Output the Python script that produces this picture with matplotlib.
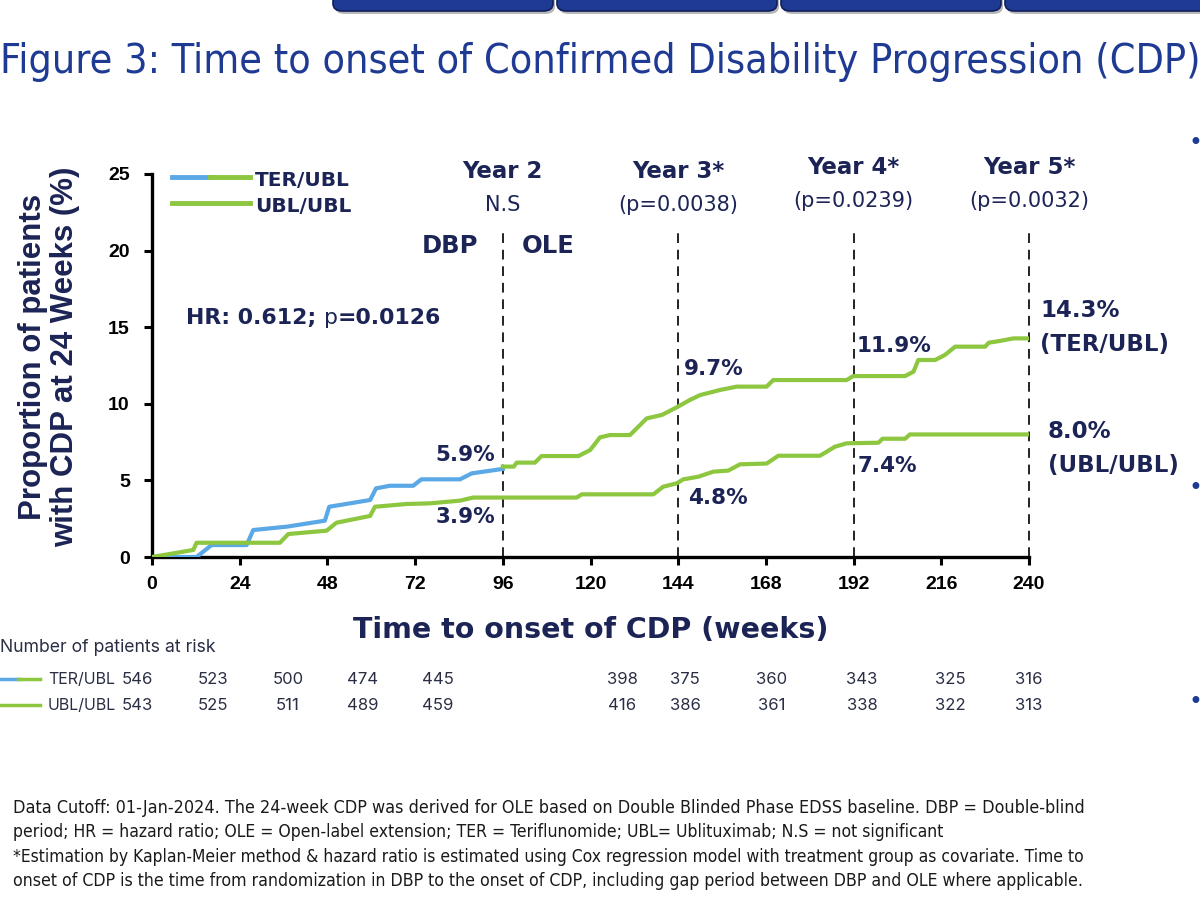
import matplotlib
matplotlib.use('Agg')
import matplotlib.pyplot as plt
from matplotlib import font_manager
from matplotlib.lines import Line2D
from matplotlib.patches import FancyBboxPatch

# ---- data ----
ter_dbp_weeks = [0, 12.2, 16.3, 25.9, 27.7, 36.9, 47.3, 48.5, 59.7, 61.3, 65.1,
                 71.5, 73.7, 84.3, 87.5, 96]
ter_dbp_pct = [0, 0, 0.78, 0.78, 1.76, 1.98, 2.37, 3.28, 3.72, 4.48, 4.65,
               4.65, 5.07, 5.07, 5.46, 5.75]

ter_ole_weeks = [96, 99, 99.8, 104.8, 106.6, 116.7, 119.9, 122.6, 125.3, 130.8,
                 135.4, 139.5, 143.6, 147.2, 150, 155.4, 160, 168.2, 170, 190.1,
                 191.9, 206.1, 208.4, 209.7, 214.3, 217, 219.8, 228, 229, 232,
                 235.7, 240]
ter_ole_pct = [5.9, 5.9, 6.16, 6.16, 6.59, 6.59, 6.98, 7.81, 7.96, 7.96,
               9.05, 9.27, 9.77, 10.25, 10.57, 10.9, 11.12, 11.12, 11.55, 11.55,
               11.81, 11.81, 12.1, 12.86, 12.86, 13.19, 13.73, 13.73, 13.99, 14.1,
               14.27, 14.27]

ubl_weeks = [0, 11.3, 12.2, 35, 37.3, 47.8, 50.5, 59.7, 61, 69.7, 76, 84.3,
             87.9, 116.2, 117.6, 137.2, 139.9, 143.6, 145.4, 149.5, 153.6, 157.7,
             160.9, 168.2, 171.4, 182.8, 186.9, 190.1, 198.8, 199.9, 206.1, 207.4,
             240]
ubl_pct = [0, 0.46, 0.93, 0.93, 1.5, 1.72, 2.24, 2.68, 3.28, 3.46, 3.5, 3.68,
           3.88, 3.88, 4.09, 4.09, 4.59, 4.81, 5.07, 5.24, 5.57, 5.64,
           6.05, 6.1, 6.61, 6.61, 7.2, 7.42, 7.46, 7.72, 7.72, 8.0,
           8.0]

year_weeks = [96, 144, 192, 240]
year_titles = ['Year 2', 'Year 3*', 'Year 4*', 'Year 5*']
year_pvals = ['N.S', '(p=0.0038)', '(p=0.0239)', '(p=0.0032)']

risk_ter = [546, 523, 500, 474, 445, 398, 375, 360, 343, 325, 316]
risk_ubl = [543, 525, 511, 489, 459, 416, 386, 361, 338, 322, 313]
risk_x_px = [137, 213, 288, 363, 438, 622, 685, 772, 862, 950, 1029]

footnotes = [
    'Data Cutoff: 01-Jan-2024. The 24-week CDP was derived for OLE based on Double Blinded Phase EDSS baseline. DBP = Double-blind',
    'period; HR = hazard ratio; OLE = Open-label extension; TER = Teriflunomide; UBL= Ublituximab; N.S = not significant',
    '*Estimation by Kaplan-Meier method & hazard ratio is estimated using Cox regression model with treatment group as covariate. Time to',
    'onset of CDP is the time from randomization in DBP to the onset of CDP, including gap period between DBP and OLE where applicable.',
]
footnote_widths = [1067, 930, 1070, 1072]

BLUE = '#5aa8e6'
GREEN = '#8dc63f'
NAVY = '#1c2456'
ROYAL = '#1f3a93'
W, H = 1200, 923

ARIAL = 'Liberation Sans'
WIDE = 'DejaVu Sans'


def condensed_font():
    # a narrow regular face if the system has one, else plain Liberation Sans
    for f in font_manager.fontManager.ttflist:
        narrow = 'Narrow' in f.name or f.stretch in ('condensed', 'semi-condensed')
        if narrow and f.weight in ('normal', 400, 'regular', 'book') and f.style == 'normal':
            return font_manager.FontProperties(fname=f.fname)
    return font_manager.FontProperties(family=ARIAL)


NARROW = condensed_font()


def fx(px):
    return px / W


def fy(py):
    return 1 - py / H


def fit_width(txt, width_px, renderer):
    # scale the font so the text spans the wanted width
    bb = txt.get_window_extent(renderer=renderer)
    txt.set_fontsize(txt.get_fontsize() * width_px / bb.width)


fig = plt.figure(figsize=(12, 9.23), dpi=100)
renderer = fig.canvas.get_renderer()

# slide tabs at the very top
for x0, x1 in [(333, 553), (557, 777), (781, 1001), (1005, 1215)]:
    shadow = FancyBboxPatch((fx(x0 + 2), fy(14)), fx(x1 - x0), 30 / H,
                            boxstyle='round,pad=0,rounding_size=0.008',
                            transform=fig.transFigure, fc='#b8b8b8', ec='none')
    tab = FancyBboxPatch((fx(x0), fy(11)), fx(x1 - x0), 30 / H,
                         boxstyle='round,pad=0,rounding_size=0.008',
                         transform=fig.transFigure, fc=ROYAL, ec='#10205e', lw=1.2)
    fig.add_artist(shadow)
    fig.add_artist(tab)

title = fig.text(0, fy(62), 'Figure 3: Time to onset of Confirmed Disability Progression (CDP)',
                 fontproperties=NARROW, color=ROYAL, va='center', ha='left')
title.set_fontsize(30)
fit_width(title, 1197, renderer)

for py in [143, 488, 702]:
    fig.text(fx(1195), fy(py), '\u2022', fontsize=17, color=ROYAL, ha='center', va='center')

ax = fig.add_axes([fx(152), fy(557), (1029 - 152) / W, (557 - 174) / H])
ax.plot(ter_dbp_weeks, ter_dbp_pct, color=BLUE, lw=3, zorder=3)
ax.plot(ter_ole_weeks, ter_ole_pct, color=GREEN, lw=3, zorder=3)
ax.plot(ubl_weeks, ubl_pct, color=GREEN, lw=3, zorder=3)
ax.vlines(year_weeks, 0, 21.4, colors='#222222', linestyles=(0, (5, 3.5)), lw=1.4,
          zorder=2, clip_on=False)

ax.set_xlim(0, 240)
ax.set_ylim(0, 25)
ax.set_xticks(range(0, 241, 24))
ax.set_yticks(range(0, 26, 5))
for s in ['top', 'right']:
    ax.spines[s].set_visible(False)
for s in ['left', 'bottom']:
    ax.spines[s].set_linewidth(2.4)
ax.tick_params(direction='out', length=6, width=2.2, labelsize=14)
for lab in ax.get_xticklabels() + ax.get_yticklabels():
    lab.set_fontweight('bold')
    lab.set_family(ARIAL)
ax.tick_params(axis='x', pad=8)
ax.tick_params(axis='y', pad=10)

ax.set_xlabel('Time to onset of CDP (weeks)', fontsize=20.5, fontweight='bold',
              family=WIDE, color=NAVY, labelpad=16)
fig.text(fx(49), fy(357), 'Proportion of patients\nwith CDP at 24 Weeks (%)',
         rotation=90, fontsize=22.5, fontweight='bold', family=ARIAL, color=NAVY,
         ha='center', va='center', linespacing=1.08)

note = dict(color=NAVY, fontweight='bold', family=WIDE, clip_on=False)
for wk, t, p in zip(year_weeks, year_titles, year_pvals):
    dy = 0 if wk < 190 else 0.25
    ax.text(wk, 25.15 + dy, t, ha='center', va='center', fontsize=16.5, **note)
    ax.text(wk, 23.0 + dy, p, ha='center', va='center', fontsize=15,
            color=NAVY, family=WIDE, clip_on=False)

ax.text(89.2, 20.3, 'DBP', ha='right', va='center', fontsize=17.5, **note)
ax.text(101.3, 20.3, 'OLE', ha='left', va='center', fontsize=17.5, **note)

hr = ax.text(9.3, 15.6, 'HR: 0.612; ', ha='left', va='center', fontsize=15.8, **note)
fig.canvas.draw()
bb = hr.get_window_extent(renderer=renderer)
x_p = ax.transData.inverted().transform((bb.x1, 0))[0]
hp = ax.text(x_p, 15.6, 'p', ha='left', va='center', fontsize=15.8, color=NAVY,
             family=WIDE, clip_on=False)
bb = hp.get_window_extent(renderer=renderer)
x_v = ax.transData.inverted().transform((bb.x1, 0))[0]
ax.text(x_v, 15.6, '=0.0126', ha='left', va='center', fontsize=15.8, **note)

ax.text(94, 6.66, '5.9%', ha='right', va='center', fontsize=15.5, **note)
ax.text(94, 2.6, '3.9%', ha='right', va='center', fontsize=15.5, **note)
ax.text(145.6, 12.3, '9.7%', ha='left', va='center', fontsize=15.5, **note)
ax.text(146.7, 3.85, '4.8%', ha='left', va='center', fontsize=15.5, **note)
ax.text(192.7, 13.8, '11.9%', ha='left', va='center', fontsize=15.5, **note)
ax.text(193.2, 5.94, '7.4%', ha='left', va='center', fontsize=15.5, **note)
ax.text(243, 16.06, '14.3%', ha='left', va='center', fontsize=16.5, **note)
ax.text(243, 13.84, '(TER/UBL)', ha='left', va='center', fontsize=16.5, **note)
ax.text(245.2, 8.16, '8.0%', ha='left', va='center', fontsize=16.5, **note)
ax.text(245.2, 5.94, '(UBL/UBL)', ha='left', va='center', fontsize=16.5, **note)

# legend drawn by hand (two coloured TER/UBL line)
fig.add_artist(Line2D([fx(172), fx(211)], [fy(177), fy(177)], color=BLUE, lw=3.5))
fig.add_artist(Line2D([fx(210), fx(250)], [fy(177), fy(177)], color=GREEN, lw=3.5))
fig.add_artist(Line2D([fx(172), fx(250)], [fy(203), fy(203)], color=GREEN, lw=3.5))
fig.text(fx(255), fy(180), 'TER/UBL', fontsize=14.5, fontweight='bold', family=WIDE,
         color=NAVY, va='center')
fig.text(fx(255), fy(207), 'UBL/UBL', fontsize=14.5, fontweight='bold', family=WIDE,
         color=NAVY, va='center')

# numbers at risk
fig.text(0, fy(647), 'Number of patients at risk', fontsize=12.7, family='Inter',
         color='#2a2e45', va='center')
fig.add_artist(Line2D([0, fx(19)], [fy(679), fy(679)], color=BLUE, lw=2.5))
fig.add_artist(Line2D([fx(18), fx(40)], [fy(679), fy(679)], color=GREEN, lw=2.5))
fig.add_artist(Line2D([0, fx(40)], [fy(705), fy(705)], color=GREEN, lw=2.5))
fig.text(fx(48), fy(679), 'TER/UBL', fontsize=11.5, family='Inter', color='#2a2e45', va='center')
fig.text(fx(48), fy(705), 'UBL/UBL', fontsize=11.5, family='Inter', color='#2a2e45', va='center')
for px, a, b in zip(risk_x_px, risk_ter, risk_ubl):
    fig.text(fx(px), fy(679), str(a), fontsize=12, family='Inter', color='#2a2e45',
             ha='center', va='center')
    fig.text(fx(px), fy(705), str(b), fontsize=12, family='Inter', color='#2a2e45',
             ha='center', va='center')

# footnote
for i, (line, wpx) in enumerate(zip(footnotes, footnote_widths)):
    t = fig.text(fx(13), fy(808 + i * 24.3), line, fontproperties=NARROW,
                 color='#1a1a1a', va='center', ha='left')
    t.set_fontsize(12)
    fit_width(t, wpx, renderer)

fig.savefig('out.png', dpi=100)
